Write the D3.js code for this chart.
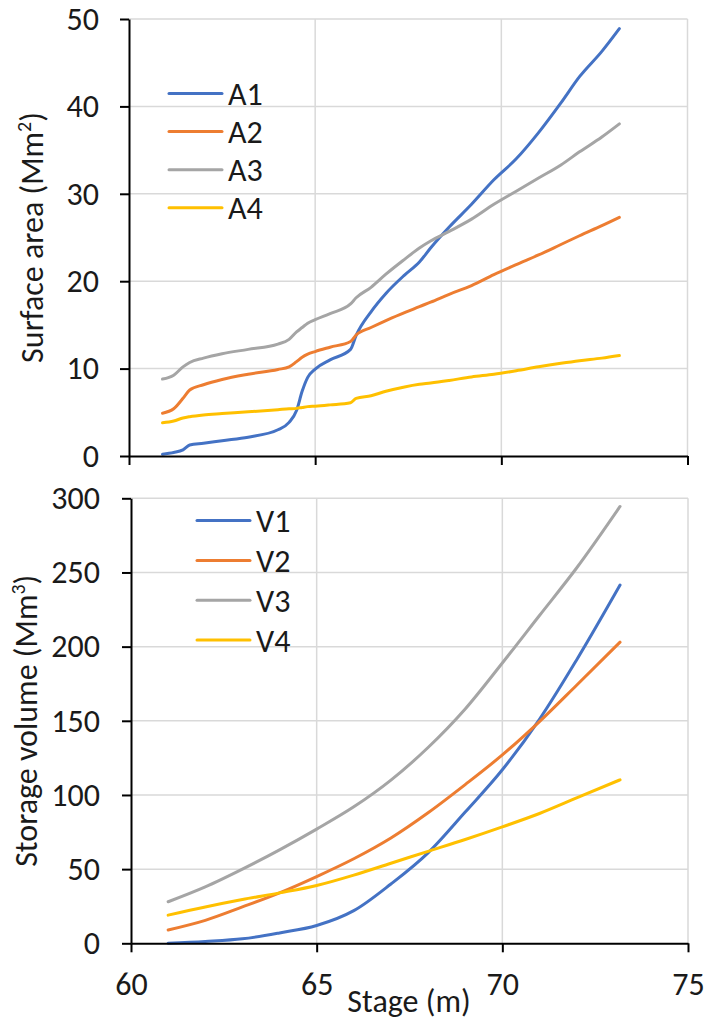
<!DOCTYPE html>
<html>
<head>
<meta charset="utf-8">
<script src="https://cdn.jsdelivr.net/npm/d3@7"></script>
<style>
  html, body { margin: 0; padding: 0; background: #fff; }
  svg { display: block; }
  text { font-family: Carlito, Lato, "Open Sans", sans-serif; fill: #1a1a1a; }
</style>
</head>
<body>
<svg id="chart" width="707" height="1020"></svg>
<script>
// Stage (m) sampling for the surface-area curves
const areaStage = [60.9, 61.2, 61.45, 61.63, 62.0, 62.5, 63.2, 64.0, 64.3, 64.5, 64.65, 64.8, 65.0, 65.4,
  65.95, 66.1, 66.5, 66.9, 67.4, 67.8, 68.1, 68.6, 69.2, 69.8, 70.4, 71.0, 71.6, 72.1, 72.7, 73.17];
// Surface area (Mm²)
const A1 = [0.2, 0.4, 0.7, 1.25, 1.45, 1.75, 2.15, 3.0, 3.85, 5.2, 7.4, 9.0, 9.95, 11.0,
  12.2, 13.8, 16.5, 18.6, 20.7, 22.2, 23.8, 26.2, 28.8, 31.6, 34.0, 37.0, 40.4, 43.4, 46.3, 48.9];
const A2 = [4.9, 5.4, 6.6, 7.55, 8.15, 8.75, 9.35, 9.9, 10.2, 10.8, 11.3, 11.65, 11.95, 12.45,
  13.1, 13.85, 14.7, 15.5, 16.4, 17.1, 17.6, 18.5, 19.5, 20.75, 21.9, 23.0, 24.2, 25.2, 26.35, 27.3];
const A3 = [8.8, 9.25, 10.2, 10.7, 11.2, 11.7, 12.2, 12.8, 13.35, 14.2, 14.7, 15.2, 15.6, 16.3,
  17.4, 18.1, 19.3, 20.8, 22.5, 23.8, 24.6, 25.7, 27.1, 28.8, 30.3, 31.8, 33.3, 34.8, 36.5, 38.0];
const A4 = [3.8, 4.0, 4.35, 4.5, 4.7, 4.85, 5.05, 5.3, 5.4, 5.45, 5.55, 5.65, 5.7, 5.85,
  6.1, 6.6, 6.9, 7.4, 7.9, 8.2, 8.35, 8.65, 9.05, 9.35, 9.75, 10.2, 10.6, 10.9, 11.2, 11.5];

// Stage (m) sampling for the storage-volume curves
const volumeStage = [61, 62, 63, 64, 65, 66, 67, 68, 69, 70, 71, 72, 73.17];
// Storage volume (Mm³)
const V1 = [0, 1.2, 3, 7, 12, 22, 40, 61, 88.5, 117, 151, 191, 241.5];
const V2 = [9, 15.5, 24.5, 34, 45, 57, 71, 88, 107, 127, 149.5, 174, 203];
const V3 = [28, 38, 50, 63, 77, 92, 110, 132, 158, 189, 221, 253, 294.5];
const V4 = [19, 24.5, 29.5, 34, 39, 46, 54, 62, 70, 78.5, 87.5, 98, 110.2];

const areaNames = ["A1", "A2", "A3", "A4"];
const volumeNames = ["V1", "V2", "V3", "V4"];
const seriesColors = ["#4472C4", "#ED7D31", "#A5A5A5", "#FFC000"];

const stageTicks = [60, 65, 70, 75];
const areaTicks = [0, 10, 20, 30, 40, 50];
const volumeTicks = [0, 50, 100, 150, 200, 250, 300];

const svg = d3.select("#chart");
const FONT = 32;
const TITLE_FONT = 32;

const xTop = d3.scaleLinear().domain([60, 75]).range([129, 687.5]);
const yTop = d3.scaleLinear().domain([0, 50]).range([456, 19]);
const xBot = d3.scaleLinear().domain([60, 75]).range([131, 688]);
const yBot = d3.scaleLinear().domain([0, 300]).range([943.3, 498.3]);

function panel(x, y, yTicks, stages, seriesList, names, opts) {
  const g = svg.append("g");
  const [x0, x1] = x.range();
  const [yb, yt] = y.range();

  // gridlines
  g.append("g").selectAll("line").data(yTicks.filter(t => t !== 0)).join("line")
    .attr("x1", x0).attr("x2", x1)
    .attr("y1", d => y(d)).attr("y2", d => y(d))
    .attr("stroke", "#d9d9d9").attr("stroke-width", 1.5);
  g.append("g").selectAll("line").data(stageTicks.filter(t => t !== 60)).join("line")
    .attr("x1", d => x(d)).attr("x2", d => x(d))
    .attr("y1", yb).attr("y2", yt)
    .attr("stroke", "#d9d9d9").attr("stroke-width", 1.5);

  // series
  const line = d3.line()
    .x((d, i) => x(stages[i]))
    .y(d => y(d))
    .curve(d3.curveMonotoneX);
  seriesList.forEach((vals, k) => {
    g.append("path").attr("d", line(vals))
      .attr("fill", "none").attr("stroke", seriesColors[k])
      .attr("stroke-width", 3).attr("stroke-linejoin", "round").attr("stroke-linecap", "round");
  });

  // axes
  const yAxis = d3.axisLeft(y).tickValues(yTicks).tickSize(9).tickSizeOuter(0).tickPadding(opts.yPad);
  const ya = g.append("g").attr("transform", `translate(${x0},0)`).call(yAxis);
  const xAxis = d3.axisBottom(x).tickValues(stageTicks).tickSize(9).tickSizeOuter(0).tickPadding(20)
    .tickFormat(opts.xLabels ? d3.format("d") : () => "");
  const xa = g.append("g").attr("transform", `translate(0,${yb})`).call(xAxis);
  [ya, xa].forEach(a => {
    a.selectAll("path.domain").attr("stroke", "#000").attr("stroke-width", 2);
    a.selectAll(".tick line").attr("stroke", "#000").attr("stroke-width", 2);
    a.selectAll(".tick text").attr("font-size", FONT).attr("fill", "#1a1a1a")
      .style("font-family", "Carlito, Lato, 'Open Sans', sans-serif");
  });

  // legend
  const lg = g.append("g");
  names.forEach((n, k) => {
    const ly = opts.legendY + k * opts.legendStep;
    lg.append("line").attr("x1", opts.legendX).attr("x2", opts.legendX + 53)
      .attr("y1", ly).attr("y2", ly)
      .attr("stroke", seriesColors[k]).attr("stroke-width", 3).attr("stroke-linecap", "round");
    lg.append("text").attr("x", opts.legendX + 59).attr("y", ly).attr("dy", "0.36em")
      .attr("font-size", FONT).text(n);
  });

  // y title with superscript
  const t = g.append("text")
    .attr("transform", `translate(${opts.titleX},${(yb + yt) / 2}) rotate(-90)`)
    .attr("text-anchor", "middle").attr("font-size", TITLE_FONT);
  t.append("tspan").text(opts.title);
  t.append("tspan").attr("font-size", TITLE_FONT * 0.62).attr("dy", -TITLE_FONT * 0.38).text(opts.sup);
  t.append("tspan").attr("dy", TITLE_FONT * 0.38).text(")");
}

panel(xTop, yTop, areaTicks, areaStage, [A1, A2, A3, A4], areaNames,
  { xLabels: false, yPad: 21, legendX: 169, legendY: 93.5, legendStep: 38.1, titleX: 43,
    title: "Surface area (Mm", sup: "2" });
panel(xBot, yBot, volumeTicks, volumeStage, [V1, V2, V3, V4], volumeNames,
  { xLabels: true, yPad: 22, legendX: 197, legendY: 520.6, legendStep: 39.8, titleX: 37,
    title: "Storage volume (Mm", sup: "3" });

// x axis title
svg.append("text").attr("x", 409).attr("y", 1012).attr("text-anchor", "middle")
  .attr("font-size", FONT).text("Stage (m)");
</script>
</body>
</html>
